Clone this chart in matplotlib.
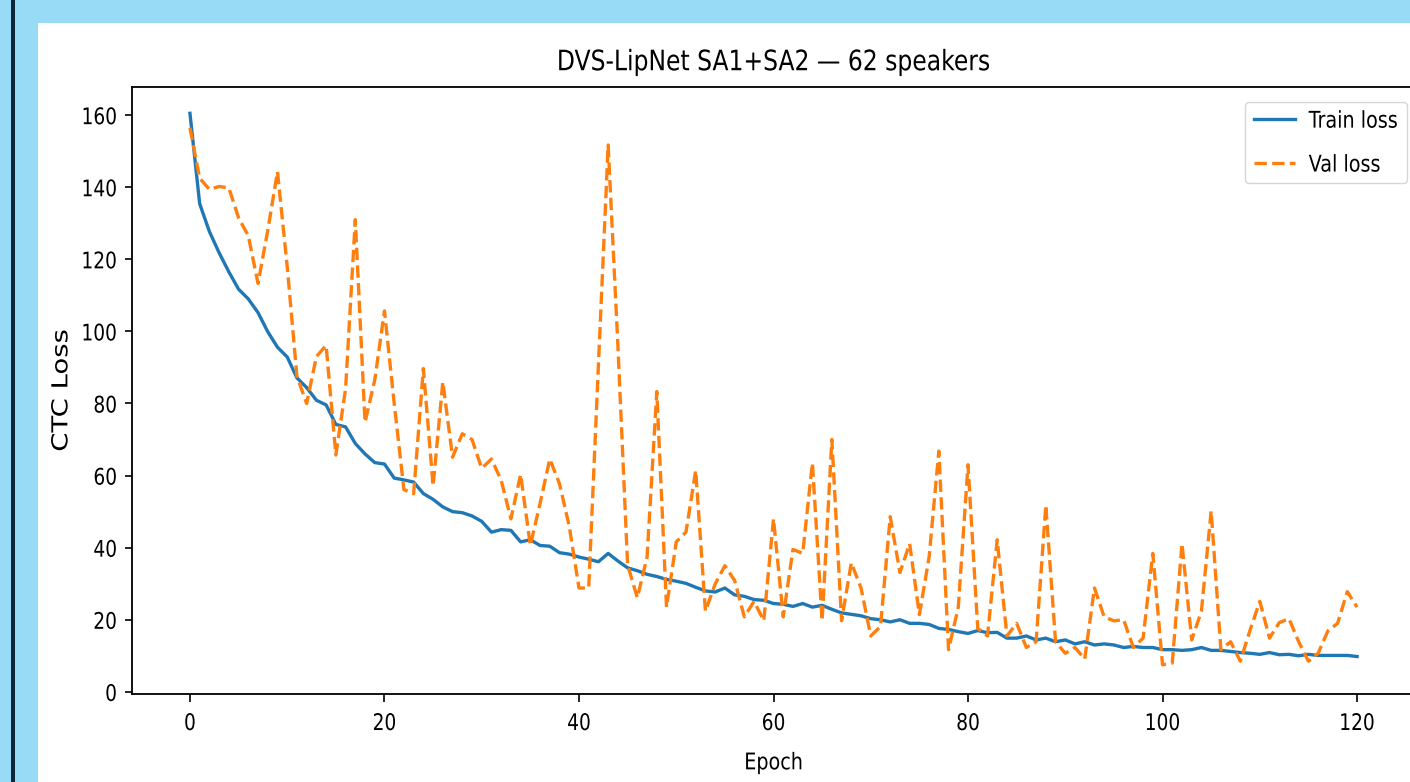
import numpy as np
import matplotlib
matplotlib.use("Agg")
import matplotlib.pyplot as plt
from matplotlib.patches import Rectangle
from matplotlib.patheffects import AbstractPathEffect
from matplotlib.transforms import Affine2D

# ---- data ----
epochs = np.arange(0, 121)

train_loss = [
    160.5, 135.4, 127.7, 121.8, 116.5, 111.7, 109.0, 105.2, 99.9, 95.6,
    92.9, 87.1, 84.4, 80.9, 79.6, 74.2, 73.5, 68.9, 66.0, 63.6,
    63.2, 59.3, 58.8, 58.2, 55.0, 53.4, 51.3, 50.0, 49.7, 48.8,
    47.3, 44.3, 45.0, 44.8, 41.6, 42.2, 40.6, 40.4, 38.6, 38.2,
    37.4, 36.8, 36.1, 38.4, 36.3, 34.4, 33.6, 32.6, 32.0, 31.2,
    30.7, 30.1, 29.0, 28.0, 27.7, 28.8, 26.9, 26.5, 25.6, 25.4,
    24.5, 24.3, 23.7, 24.5, 23.5, 24.0, 22.9, 21.9, 21.5, 21.1,
    20.3, 20.0, 19.4, 20.0, 19.0, 19.0, 18.7, 17.6, 17.3, 16.7,
    16.2, 17.0, 16.4, 16.5, 14.9, 14.9, 15.5, 14.4, 14.9, 13.9,
    14.4, 13.3, 13.9, 13.0, 13.3, 13.0, 12.3, 12.6, 12.3, 12.3,
    11.7, 11.7, 11.5, 11.7, 12.3, 11.5, 11.5, 11.2, 10.9, 10.7,
    10.4, 10.9, 10.3, 10.4, 10.0, 10.4, 10.1, 10.1, 10.1, 10.1,
    9.8,
]

val_loss = [
    156.5, 142.5, 139.4, 140.2, 139.8, 131.5, 126.5, 113.3, 128.0, 144.3,
    118.0, 87.5, 80.0, 93.0, 96.1, 65.7, 84.0, 131.0, 74.8, 86.5,
    105.7, 80.0, 56.1, 55.0, 89.7, 57.1, 86.0, 65.1, 71.6, 70.0,
    62.0, 64.6, 58.7, 48.0, 60.3, 40.6, 52.3, 64.6, 57.7, 45.9,
    28.8, 28.8, 90.8, 151.7, 96.1, 35.2, 26.1, 37.4, 83.3, 23.5,
    41.6, 44.3, 61.4, 22.4, 29.9, 35.0, 30.9, 20.8, 25.1, 19.7,
    48.0, 20.8, 39.5, 38.4, 63.5, 19.7, 70.0, 19.7, 35.8, 28.8,
    15.5, 18.1, 48.6, 33.1, 41.1, 21.4, 37.4, 66.8, 11.7, 23.5,
    63.0, 17.6, 15.5, 42.2, 15.5, 19.0, 12.3, 13.9, 51.8, 13.9,
    10.7, 12.3, 9.1, 28.8, 20.8, 19.7, 20.0, 12.3, 14.9, 38.4,
    7.5, 8.0, 41.1, 14.4, 22.4, 50.2, 11.7, 13.9, 8.5, 17.1,
    25.1, 14.9, 19.2, 20.3, 13.9, 8.5, 10.7, 16.9, 19.0, 27.8,
    23.5,
]

title = "DVS-LipNet SA1+SA2 \u2014 62 speakers"


# the reference screenshot is stretched vertically, so text looks narrow;
# this scales the drawn glyphs about their own centre (text stays text)
class Stretch(AbstractPathEffect):
    def __init__(self, sx=1.0, sy=1.0):
        super().__init__()
        self.sx, self.sy = sx, sy

    def draw_path(self, renderer, gc, tpath, affine, rgbFace=None):
        ext = tpath.get_extents(affine)
        cx = (ext.x0 + ext.x1) / 2
        cy = (ext.y0 + ext.y1) / 2
        st = Affine2D().translate(-cx, -cy).scale(self.sx, self.sy).translate(cx, cy)
        renderer.draw_path(gc, tpath, affine + st, rgbFace)


SY = 1.2
fs = 13.8

plt.rcParams["font.family"] = ["DejaVu Sans"]

fig = plt.figure(figsize=(14.1, 7.82), dpi=100)
fig.patch.set_facecolor("#98dbf6")
# white card and the dark edge of the screenshot
fig.patches.append(Rectangle((38 / 1410, 0), 1, (782 - 23) / 782,
                             transform=fig.transFigure, facecolor="white",
                             edgecolor="none", zorder=-2))
fig.patches.append(Rectangle((11 / 1410, 0), 4 / 1410, 1,
                             transform=fig.transFigure, facecolor="#0e2636",
                             edgecolor="none", zorder=-2))

ax = fig.add_axes([131.6 / 1410, 1 - 694 / 782, 1283.8 / 1410, 607 / 782])
ax.plot(epochs, train_loss, color="#1f77b4", lw=2.4, label="Train loss")
ax.plot(epochs, val_loss, color="#ff7f0e", lw=2.4, ls="--", label="Val loss")

ax.set_ylim(-0.6, 167.8)
ax.set_yticks(np.arange(0, 161, 20))
ax.set_xticks(np.arange(0, 121, 20))

ax.tick_params(labelsize=13.4, width=1.2)
ax.tick_params(axis="y", length=5, pad=5.5)
ax.tick_params(axis="x", length=6, pad=8)
for lab in ax.get_xticklabels() + ax.get_yticklabels():
    lab.set_path_effects([Stretch(sy=1.23)])

t = ax.set_title(title, fontsize=16.9, pad=13)
t.set_path_effects([Stretch(sy=SY)])
xl = ax.set_xlabel("Epoch", fontsize=fs, labelpad=15)
xl.set_path_effects([Stretch(sy=SY)])
yl = ax.set_ylabel("CTC Loss", fontsize=19.8)
yl.set_path_effects([Stretch(sx=0.8)])
ax.yaxis.set_label_coords(-0.0438, 0.5)

for s in ax.spines.values():
    s.set_linewidth(1.3)

leg = ax.legend(loc="upper right", fontsize=fs, handlelength=2.15,
                handletextpad=0.7, borderpad=0.48, labelspacing=1.3,
                borderaxespad=0,
                bbox_to_anchor=(1407 / 1410, 1 - 102 / 782),
                bbox_transform=fig.transFigure)
for txt in leg.get_texts():
    txt.set_path_effects([Stretch(sy=SY)])

fig.savefig("out.png", dpi=100)
